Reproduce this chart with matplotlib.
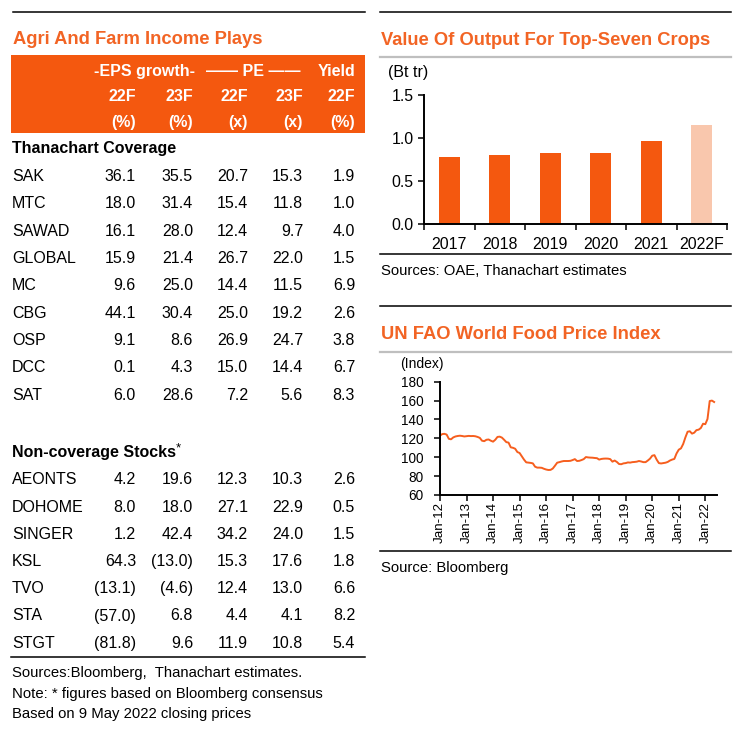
import matplotlib
matplotlib.use('Agg')
import matplotlib.pyplot as plt
from matplotlib.patches import Rectangle
from matplotlib.lines import Line2D

plt.rcParams['font.family'] = ['Liberation Sans', 'DejaVu Sans']

W, H = 753, 729

# table data
cov_names = ['SAK', 'MTC', 'SAWAD', 'GLOBAL', 'MC', 'CBG', 'OSP', 'DCC', 'SAT']
cov_eps22 = [36.1, 18.0, 16.1, 15.9, 9.6, 44.1, 9.1, 0.1, 6.0]
cov_eps23 = [35.5, 31.4, 28.0, 21.4, 25.0, 30.4, 8.6, 4.3, 28.6]
cov_pe22 = [20.7, 15.4, 12.4, 26.7, 14.4, 25.0, 26.9, 15.0, 7.2]
cov_pe23 = [15.3, 11.8, 9.7, 22.0, 11.5, 19.2, 24.7, 14.4, 5.6]
cov_yld22 = [1.9, 1.0, 4.0, 1.5, 6.9, 2.6, 3.8, 6.7, 8.3]

non_names = ['AEONTS', 'DOHOME', 'SINGER', 'KSL', 'TVO', 'STA', 'STGT']
non_eps22 = [4.2, 8.0, 1.2, 64.3, -13.1, -57.0, -81.8]
non_eps23 = [19.6, 18.0, 42.4, -13.0, -4.6, 6.8, 9.6]
non_pe22 = [12.3, 27.1, 34.2, 15.3, 12.4, 4.4, 11.9]
non_pe23 = [10.3, 22.9, 24.0, 17.6, 13.0, 4.1, 10.8]
non_yld22 = [2.6, 0.5, 1.5, 1.8, 6.6, 8.2, 5.4]

# bar chart data
crop_years = ['2017', '2018', '2019', '2020', '2021', '2022F']
crop_value = [0.78, 0.80, 0.82, 0.83, 0.97, 1.15]

# FAO food price index, monthly Jan-12 .. May-22
fao_index = [
    122.9, 124.5, 124.8, 124.0, 119.5, 119.0, 121.0, 122.0, 122.5, 122.8, 122.5, 122.0,
    122.3, 122.6, 122.4, 122.5, 122.2, 121.5, 120.5, 117.5, 117.0, 118.5, 118.8, 117.5,
    116.5, 118.5, 121.5, 121.8, 120.8, 118.5, 116.0, 115.5, 110.5, 110.0, 109.0, 105.5,
    104.5, 101.0, 97.5, 94.6, 94.3, 94.0, 93.5, 90.0, 89.0, 89.0, 88.8, 87.8,
    87.0, 86.5, 86.6, 88.0, 91.0, 94.2, 94.8, 95.5, 96.0, 96.0, 96.0, 96.2,
    97.0, 98.0, 96.0, 96.2, 97.0, 98.0, 100.2, 99.8, 99.6, 99.5, 99.2, 99.0,
    97.5, 98.2, 98.5, 98.6, 98.5, 98.0, 95.3, 96.5, 95.0, 92.8, 92.6, 93.5,
    93.8, 94.5, 94.3, 94.8, 95.0, 95.3, 96.0, 95.5, 94.8, 94.8, 96.5, 98.5,
    101.6, 102.2, 97.5, 93.8, 93.4, 93.8, 94.2, 95.0, 96.5, 97.5, 98.2, 104.0,
    108.0, 109.4, 114.0, 121.0, 127.0, 127.5, 125.0, 126.0, 128.7, 129.2, 131.0, 135.5,
    135.0, 140.5, 159.5, 160.0, 158.5,
]
fao_ticklabels = ['Jan-12', 'Jan-13', 'Jan-14', 'Jan-15', 'Jan-16', 'Jan-17',
                  'Jan-18', 'Jan-19', 'Jan-20', 'Jan-21', 'Jan-22']

ORANGE = '#F4580F'
TITLE_OR = '#F26424'
LIGHT = '#F9C7AD'
GRAY = '#BFBFBF'

BODY = 11.5
NOTE = 10.7
TITLE = 13.2


def fx(x):
    return x / W


def fy(y):
    return 1 - y / H


def hline(fig, x0, x1, y, color='black', lw=1.0):
    fig.add_artist(Line2D([fx(x0), fx(x1)], [fy(y), fy(y)], color=color, lw=lw,
                          transform=fig.transFigure))


def ptext(fig, x, y, s, **kw):
    kw.setdefault('va', 'center')
    kw.setdefault('fontsize', BODY)
    fig.text(fx(x), fy(y), s, **kw)


def fmt(v):
    if v < 0:
        return '(%.1f)' % -v
    return '%.1f' % v


fig = plt.figure(figsize=(W / 100, H / 100), dpi=100)

# ---------------- left: table ----------------
hline(fig, 13, 365, 11.5, lw=1.1)
ptext(fig, 13, 40, 'Agri And Farm Income Plays', color=TITLE_OR, fontsize=TITLE,
      fontweight='bold')
fig.add_artist(Rectangle((fx(11), fy(133)), fx(365) - fx(11), fy(55) - fy(133),
                         transform=fig.transFigure, color=ORANGE, lw=0))

col_x = [136, 193, 248, 303, 355]
hdr = dict(color='white', fontweight='bold', ha='right')
ptext(fig, 145, 71.7, '-EPS growth-', color='white', fontweight='bold', ha='center')
ptext(fig, 253, 71.7, '\u2014\u2014 PE \u2014\u2014', color='white', fontweight='bold',
      ha='center')
ptext(fig, 355, 71.7, 'Yield', **hdr)
for x, s in zip(col_x, ['22F', '23F', '22F', '23F', '22F']):
    ptext(fig, x, 96.7, s, **hdr)
for x, s in zip(col_x, ['(%)', '(%)', '(x)', '(x)', '(%)']):
    ptext(fig, x, 122.7, s, **hdr)

ptext(fig, 12, 149, 'Thanachart Coverage', fontweight='bold')
for i, name in enumerate(cov_names):
    y = 176.7 + i * 27.3
    ptext(fig, 12, y, name)
    vals = [cov_eps22[i], cov_eps23[i], cov_pe22[i], cov_pe23[i], cov_yld22[i]]
    for x, v in zip(col_x, vals):
        ptext(fig, x, y, fmt(v), ha='right')

ptext(fig, 12, 452.3, 'Non-coverage Stocks', fontweight='bold')
ptext(fig, 175.5, 448.5, '*', fontsize=9.5)
for i, name in enumerate(non_names):
    y = 480 + i * 27.2
    ptext(fig, 12, y, name)
    vals = [non_eps22[i], non_eps23[i], non_pe22[i], non_pe23[i], non_yld22[i]]
    for x, v in zip(col_x, vals):
        ptext(fig, x, y, fmt(v), ha='right')

hline(fig, 11, 365, 656.7, lw=1.1)
ptext(fig, 12, 673.3, 'Sources:Bloomberg,  Thanachart estimates.', fontsize=NOTE)
ptext(fig, 12, 694, 'Note: * figures based on Bloomberg consensus', fontsize=NOTE)
ptext(fig, 12, 714, 'Based on 9 May 2022 closing prices', fontsize=NOTE)

# ---------------- right top: bar chart ----------------
hline(fig, 380, 731, 12.3, lw=1.1)
ptext(fig, 381, 40.7, 'Value Of Output For Top-Seven Crops', color=TITLE_OR,
      fontsize=TITLE, fontweight='bold')
hline(fig, 380, 731, 57, color=GRAY, lw=1.6)
ptext(fig, 388, 72, '(Bt tr)', fontsize=11.5)

ax1 = fig.add_axes([fx(424), fy(224), fx(727) - fx(424), fy(95) - fy(224)])
colors = [ORANGE] * (len(crop_years) - 1) + [LIGHT]
ax1.bar(range(len(crop_years)), crop_value, width=0.41, color=colors)
ax1.set_xlim(-0.5, len(crop_years) - 0.5)
ax1.set_ylim(0, 1.5)
ax1.set_yticks([0.0, 0.5, 1.0, 1.5])
ax1.set_yticklabels(['0.0', '0.5', '1.0', '1.5'])
ax1.set_xticks(range(len(crop_years)))
ax1.set_xticklabels(crop_years)
ax1.set_xticks([i - 0.5 for i in range(len(crop_years) + 1)], minor=True)
ax1.tick_params(axis='x', which='major', length=0, pad=9, labelsize=11.4)
ax1.tick_params(axis='x', which='minor', length=4, width=1.1, direction='out')
ax1.tick_params(axis='y', length=4, width=1.1, pad=3.5, labelsize=11.4)
for s in ['top', 'right']:
    ax1.spines[s].set_visible(False)
for s in ['left', 'bottom']:
    ax1.spines[s].set_linewidth(1.4)

hline(fig, 380, 731, 254, lw=1.1)
ptext(fig, 381, 271, 'Sources: OAE, Thanachart estimates', fontsize=NOTE)

# ---------------- right bottom: line chart ----------------
hline(fig, 380, 731, 306, lw=1.1)
ptext(fig, 381, 335, 'UN FAO World Food Price Index', color=TITLE_OR,
      fontsize=TITLE, fontweight='bold')
hline(fig, 380, 731, 351.7, color=GRAY, lw=1.6)
ptext(fig, 400, 364, '(Index)', fontsize=10)

ax2 = fig.add_axes([fx(440), fy(495), fx(717) - fx(440), fy(381.7) - fy(495)])
ax2.plot(range(len(fao_index)), fao_index, color='#F65E1E', lw=1.4)
ax2.set_xlim(0, 125.3)
ax2.set_ylim(60, 180)
ax2.set_yticks(range(60, 181, 20))
ax2.set_xticks(range(0, 121, 12))
ax2.set_xticklabels(fao_ticklabels, rotation=90)
ax2.tick_params(axis='x', length=4, width=1.1, pad=1, labelsize=9.6)
ax2.tick_params(axis='y', length=4, width=1.1, pad=8, labelsize=9.8)
for s in ['top', 'right']:
    ax2.spines[s].set_visible(False)
for s in ['left', 'bottom']:
    ax2.spines[s].set_linewidth(1.4)

hline(fig, 380, 731, 550.7, lw=1.1)
ptext(fig, 381, 568, 'Source: Bloomberg', fontsize=NOTE)

fig.savefig('out.png', dpi=100)
